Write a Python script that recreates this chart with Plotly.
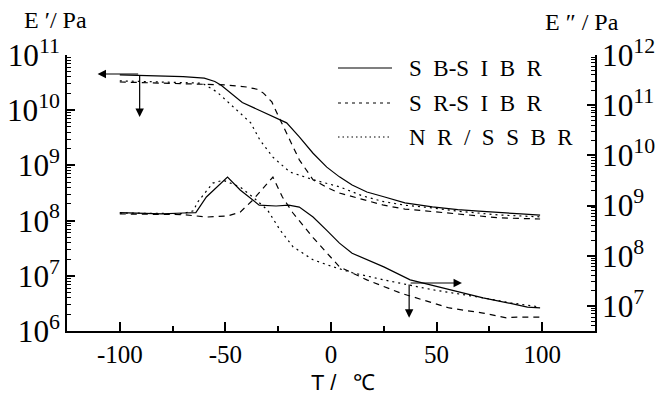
import plotly.graph_objects as go

# ---------------- data ----------------
series_names = ["S\u2002B-S\u2002I\u2002B\u2002R", "S\u2002R-S\u2002I\u2002B\u2002R", "N\u2002R\u2002/\u2002S\u2002S\u2002B\u2002R"]
series_dash = ["solid", "6px,5px", "2px,4px"]
legend_dash = ["solid", "3px,4px", "1.5px,3px"]

# storage modulus E' (Pa), left axis
T_e1_sb = [-100, -90, -80, -70, -60, -55, -52, -47, -42, -34, -27.5, -21, -15, -8.5, -2, 4, 10, 17, 25, 35, 48, 60, 70, 80, 90, 99]
E1_sb = [4.37e10, 4.27e10, 4.17e10, 4.07e10, 3.80e10, 3.31e10, 2.82e10, 1.95e10, 1.38e10, 1.0e10, 7.8e9, 5.9e9, 3.3e9, 1.66e9,
         9.3e8, 6.2e8, 4.4e8, 3.3e8, 2.7e8, 2.1e8, 1.78e8, 1.58e8, 1.48e8, 1.38e8, 1.32e8, 1.26e8]

T_e1_sr = [-100, -90, -80, -70, -60, -50, -40, -35, -32, -28, -25.6, -21, -15, -8.5, -2, 4, 15, 25, 35, 48, 60, 80, 99]
E1_sr = [3.24e10, 3.16e10, 3.09e10, 3.02e10, 2.95e10, 2.88e10, 2.63e10, 2.40e10, 2.04e10, 1.41e10, 8.9e9, 3.9e9, 1.26e9,
         5.5e8, 4.0e8, 3.16e8, 2.4e8, 1.9e8, 1.62e8, 1.45e8, 1.29e8, 1.12e8, 1.07e8]

T_e1_nr = [-100, -80, -61, -54, -46.5, -38, -33.7, -27.5, -19.5, -8.5, 4, 15, 25, 35, 48, 60, 80, 99]
E1_nr = [3.4e10, 3.24e10, 3.09e10, 2.14e10, 1.15e10, 5.9e9, 2.9e9, 1.41e9, 7.6e8, 5.5e8, 4.1e8, 2.8e8, 2.2e8, 1.9e8,
         1.7e8, 1.48e8, 1.26e8, 1.17e8]

# loss modulus E'' (Pa), right axis
T_e2_sb = [-100, -90, -80, -70, -64, -59, -54, -49, -43, -38, -34, -26, -20, -15, -8.5, -2, 4, 10, 17, 25, 37.5, 56, 72, 85, 93, 99]
E2_sb = [7.2e8, 6.9e8, 6.8e8, 7.1e8, 7.2e8, 1.48e9, 2.34e9, 3.7e9, 2.04e9, 1.41e9, 1.02e9, 9.8e8, 1.02e9, 9.3e8, 5.9e8,
         3.2e8, 1.78e8, 1.12e8, 8.3e7, 6.0e7, 3.3e7, 2.1e7, 1.45e7, 1.12e7, 9.5e6, 9.1e6]

T_e2_sr = [-100, -80, -70, -59, -49, -43, -37, -30, -27.5, -23, -18, -8.5, -2, 4, 17, 33, 48, 56, 72, 83, 88, 99]
E2_sr = [6.8e8, 6.8e8, 6.6e8, 5.9e8, 6.2e8, 7.4e8, 1.29e9, 2.8e9, 3.7e9, 1.48e9, 7.1e8, 2.3e8, 1.15e8, 6.0e7, 3.3e7,
         1.8e7, 1.15e7, 9.1e6, 7.2e6, 5.8e6, 6.0e6, 6.0e6]

T_e2_nr = [-100, -80, -70, -65, -63.5, -56, -51, -43, -37, -30, -24, -18, -8.5, 1, 10, 25, 48, 72, 85, 99]
E2_nr = [7.1e8, 6.9e8, 6.9e8, 7.9e8, 1.12e9, 2.8e9, 3.2e9, 2.34e9, 1.48e9, 8.1e8, 3.2e8, 1.51e8, 8.3e7, 6.0e7, 4.6e7,
         3.3e7, 2.1e7, 1.45e7, 1.15e7, 9.5e6]

x_ticks = [-100, -50, 0, 50, 100]
x_ticktext = ["-100", "-50", "0", "50", "100"]

# arrows: (tail T, tail log10 E' , head T, head log10 E')
arrows = [(-90.6, 10.656, -110.5, 10.656), (-90.6, 10.656, -90.6, 9.877),
          (37, 6.87, 62, 6.87), (37, 6.87, 37, 6.24)]

# ---------------- figure ----------------
fig = go.Figure()
e1 = [(T_e1_sb, E1_sb), (T_e1_sr, E1_sr), (T_e1_nr, E1_nr)]
e2 = [(T_e2_sb, E2_sb), (T_e2_sr, E2_sr), (T_e2_nr, E2_nr)]
for i, (t, v) in enumerate(e1):
    fig.add_trace(go.Scatter(x=t, y=v, mode="lines", name=series_names[i], showlegend=False,
                             line=dict(color="black", width=1.2, dash=series_dash[i]), yaxis="y"))
for i, (t, v) in enumerate(e2):
    fig.add_trace(go.Scatter(x=t, y=v, mode="lines", name=series_names[i], showlegend=False,
                             line=dict(color="black", width=1.2, dash=series_dash[i]), yaxis="y2"))

serif = "Times New Roman, Liberation Serif, Tinos, serif"
tickfont = dict(family=serif, size=25, color="black")

L, R, T, B = 67, 595, 55, 331
W, H = R - L, B - T

def px(x):
    return (x - L) / W

def py(y):
    return (B - y) / H

fig.update_layout(
    width=658, height=403,
    margin=dict(l=L, r=658 - R, t=T, b=403 - B, autoexpand=False),
    plot_bgcolor="white", paper_bgcolor="white",
    showlegend=False,
    font=dict(family=serif, color="black"),
    xaxis=dict(range=[-125, 125], tickmode="array", tickvals=x_ticks, ticktext=x_ticktext,
               ticks="inside", ticklen=9, tickwidth=2, tickcolor="black",
               minor=dict(dtick=25, tick0=-100, ticks="inside", ticklen=5, tickwidth=1.5, tickcolor="black", showgrid=False),
               showline=True, linewidth=2, linecolor="black", showgrid=False, zeroline=False,
               tickfont=tickfont),
    yaxis=dict(type="log", range=[6, 11], tickmode="linear", tick0=0, dtick=1, exponentformat="power",
               ticks="inside", ticklen=8, tickwidth=1.5, tickcolor="black",
               minor=dict(dtick="D1", ticks="inside", ticklen=4, tickwidth=1, tickcolor="black", showgrid=False),
               showline=True, linewidth=2, linecolor="black", showgrid=False, zeroline=False,
               tickfont=tickfont),
    yaxis2=dict(type="log", range=[6.5, 12], overlaying="y", side="right", anchor="x",
                tickmode="linear", tick0=0, dtick=1, exponentformat="power",
                ticks="inside", ticklen=8, tickwidth=1.5, tickcolor="black",
                minor=dict(dtick="D1", ticks="inside", ticklen=4, tickwidth=1, tickcolor="black", showgrid=False),
                showline=True, linewidth=2, linecolor="black", showgrid=False, zeroline=False,
                tickfont=tickfont),
)

# arrows
for (tx, ty, hx, hy) in arrows:
    fig.add_annotation(x=hx, y=hy, ax=tx, ay=ty, xref="x", yref="y", axref="x", ayref="y",
                       text="", showarrow=True, arrowhead=2, arrowsize=1.4, arrowwidth=1.2,
                       arrowcolor="black", standoff=0, startstandoff=0)

# legend (drawn manually)
leg_y = [68, 103, 137]
for i in range(3):
    fig.add_shape(type="line", xref="paper", yref="paper", x0=px(338), x1=px(392), y0=py(leg_y[i]), y1=py(leg_y[i]),
                  line=dict(color="black", width=1.2, dash=legend_dash[i]))
    fig.add_annotation(x=px(407), y=py(leg_y[i]), xref="paper", yref="paper", text=series_names[i], showarrow=False,
                       xanchor="left", yanchor="middle", font=dict(family=serif, size=23, color="black"))

# axis titles
fig.add_annotation(x=px(22), y=py(20), xref="paper", yref="paper", text="E \u2032/ Pa", showarrow=False,
                   font=dict(family=serif, size=24, color="black"), xanchor="left", yanchor="middle")
fig.add_annotation(x=px(543), y=py(22), xref="paper", yref="paper", text="E \u2033 / Pa",
                   showarrow=False, font=dict(family=serif, size=24, color="black"), xanchor="left", yanchor="middle")
fig.add_annotation(x=px(343), y=py(382), xref="paper", yref="paper", text="T /\u2002 \u2103",
                   showarrow=False, font=dict(family="Arial, Liberation Sans, sans-serif", size=22, color="black"),
                   xanchor="center", yanchor="middle")

fig.write_html("out.html", config={"displayModeBar": False},
               post_script="document.body.style.margin='0';")
